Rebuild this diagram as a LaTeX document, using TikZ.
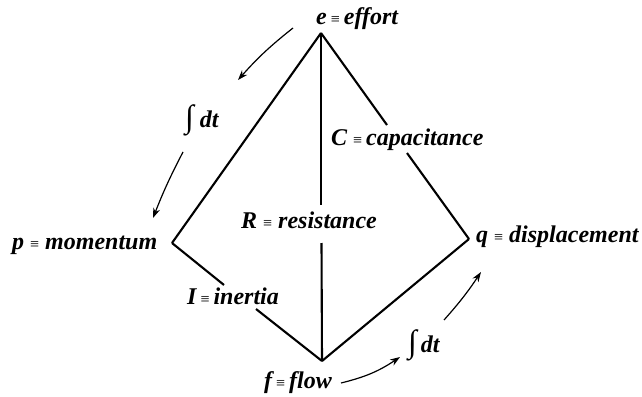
\documentclass[tikz,border=0pt]{standalone}
\usepackage{fontspec}
\setmainfont{Liberation Serif}
\usetikzlibrary{arrows.meta}
\newcommand\eqvsym{{\fontsize{16}{16}\selectfont\upshape\mdseries ≡}}
\newcommand\intsym{{\fontsize{32}{32}\selectfont\upshape\mdseries ∫}}
\begin{document}
\begin{tikzpicture}[x=1pt,y=-1pt,
  font=\fontsize{24}{26}\selectfont\bfseries\itshape,
  edge/.style={line width=2.1pt},
  flowarrow/.style={line width=1.2pt,-{Stealth[length=10pt,width=7pt]}},
  lbl/.style={inner sep=0pt,anchor=base west}]
\useasboundingbox (0,0) rectangle (642,396);
% vertices
\coordinate (E) at (321,33);
\coordinate (P) at (172,243);
\coordinate (Q) at (469,239);
\coordinate (F) at (322,361);
% gap ends
\coordinate (vTop) at (321,205);
\coordinate (vBot) at (321.5,243);
\coordinate (cTop) at (387,125);
\coordinate (cBot) at (407,153);
\coordinate (iTop) at (224,285);
\coordinate (iBot) at (256,309);
% labels
\node[lbl] (eL) at (316,25) {e\,\eqvsym\,effort};
\node[lbl] (pL) at (12,249) {p \eqvsym{} momentum};
\node[lbl] (qL) at (476,242) {q \eqvsym{} displacement};
\node[lbl] (cL) at (331,145) {C \eqvsym\,capacitance};
\node[lbl] (rL) at (241,228) {R \eqvsym{} resistance};
\node[lbl] (iL) at (187,304) {I\,\eqvsym\,inertia};
\node[lbl] (fL) at (264,388) {f\,\eqvsym\,flow};
\node[lbl] (int1) at (185,127) {\intsym\ dt};
\node[lbl] (int2) at (408,352) {\intsym\,dt};
% edges
\draw[edge] (E) -- (P);
\draw[edge] (E) -- (cTop);
\draw[edge] (cBot) -- (Q);
\draw[edge] (E) -- (vTop);
\draw[edge] (vBot) -- (F);
\draw[edge] (P) -- (iTop);
\draw[edge] (iBot) -- (F);
\draw[edge] (F) -- (Q);
% arrows
\coordinate (a1s) at (293,28);
\coordinate (a1e) at (238,80);
\coordinate (a2s) at (183,152);
\coordinate (a2e) at (153,218);
\coordinate (a3s) at (341,383);
\coordinate (a3e) at (400,357);
\coordinate (a4s) at (444,320);
\coordinate (a4e) at (481,272);
\draw[flowarrow] (a1s) to[bend right=5] (a1e);
\draw[flowarrow] (a2s) to[bend right=3] (a2e);
\draw[flowarrow] (a3s) to[bend right=10] (a3e);
\draw[flowarrow] (a4s) to[bend right=4] (a4e);
\end{tikzpicture}
\end{document}
